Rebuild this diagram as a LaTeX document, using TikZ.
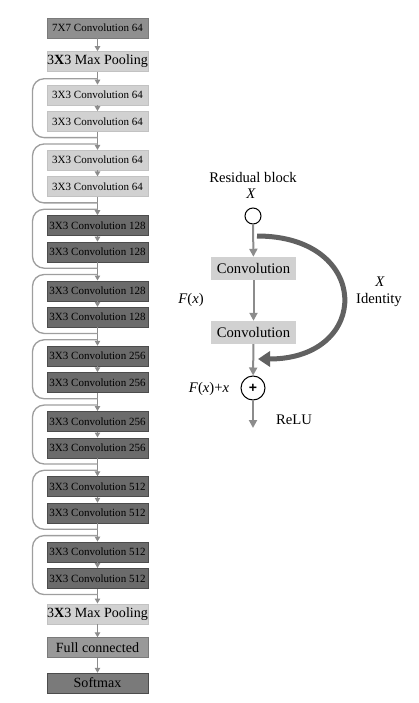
\documentclass[tikz,border=0pt]{standalone}
\usepackage{fontspec}
\setmainfont{Liberation Serif}
\newfontfamily\plusfont{Liberation Sans}
\usetikzlibrary{positioning,arrows.meta}

\begin{document}
\begin{tikzpicture}[x=0.3mm,y=-0.3mm,
		box/.style={rectangle,minimum width=30.3mm,minimum height=6mm,inner sep=0pt,font=\fontsize{9.4}{10}\selectfont},
		light/.style={box,fill=black!18,draw=black!24},
		dark/.style={box,fill=black!58,draw=black!70},
		mid/.style={box,fill=black!44,draw=black!52},
		big/.style={font=\fontsize{12}{13}\selectfont},
		conv/.style={rectangle,fill=black!18,minimum width=25.5mm,minimum height=6.9mm,inner sep=0pt,font=\fontsize{12.5}{13}\selectfont},
		label/.style={font=\fontsize{12.5}{13}\selectfont},
		flow/.style={draw=black!45,line width=0.45mm,-{Triangle[length=1.5mm,width=1.6mm]}},
		flowb/.style={draw=black!45,line width=0.6mm,-{Triangle[length=2.4mm,width=2.4mm]}},
		skip/.style={draw=black!38,line width=0.4mm,rounded corners=3.5mm},
		ident/.style={draw=black!62,line width=1.5mm,-{Triangle[length=3.6mm,width=4.5mm]}}]
		\useasboundingbox (0,0) rectangle (419,703);

		\node[mid]	(0)	at (97.5,28)								{7X7 Convolution 64};
		\node[light,big,node distance=3.9mm,below=of 0]	(1)	{3\textbf{X}3 Max Pooling};
		\node[light,node distance=3.9mm,below=of 1]		(2)	{3X3 Convolution 64};
		\node[light,node distance=1.8mm,below=of 2]		(3)	{3X3 Convolution 64};
		\node[light,node distance=5.5mm,below=of 3]		(4)	{3X3 Convolution 64};
		\node[light,node distance=1.8mm,below=of 4]		(5)	{3X3 Convolution 64};
		\node[dark,node distance=5.5mm,below=of 5]		(6)	{3X3 Convolution 128};
		\node[dark,node distance=1.8mm,below=of 6]		(7)	{3X3 Convolution 128};
		\node[dark,node distance=5.5mm,below=of 7]		(8)	{3X3 Convolution 128};
		\node[dark,node distance=1.8mm,below=of 8]		(9)	{3X3 Convolution 128};
		\node[dark,node distance=5.5mm,below=of 9]		(10)	{3X3 Convolution 256};
		\node[dark,node distance=1.8mm,below=of 10]		(11)	{3X3 Convolution 256};
		\node[dark,node distance=5.5mm,below=of 11]		(12)	{3X3 Convolution 256};
		\node[dark,node distance=1.8mm,below=of 12]		(13)	{3X3 Convolution 256};
		\node[dark,node distance=5.5mm,below=of 13]		(14)	{3X3 Convolution 512};
		\node[dark,node distance=1.8mm,below=of 14]		(15)	{3X3 Convolution 512};
		\node[dark,node distance=5.5mm,below=of 15]		(16)	{3X3 Convolution 512};
		\node[dark,node distance=1.8mm,below=of 16]		(17)	{3X3 Convolution 512};
		\node[light,big,node distance=4.5mm,below=of 17]	(18)	{3\textbf{X}3 Max Pooling};
		\node[mid,big,fill=black!40,node distance=4mm,below=of 18]	(19)	{Full connected};
		\node[dark,big,fill=black!52,node distance=4.5mm,below=of 19]	(20)	{Softmax};

		\draw[flow] (0) -- (1);
		\draw[flow] (1) -- (2);
		\draw[flow] (2) -- (3);
		\draw[flow] (3) -- (4);
		\draw[flow] (4) -- (5);
		\draw[flow] (5) -- (6);
		\draw[flow] (6) -- (7);
		\draw[flow] (7) -- (8);
		\draw[flow] (8) -- (9);
		\draw[flow] (9) -- (10);
		\draw[flow] (10) -- (11);
		\draw[flow] (11) -- (12);
		\draw[flow] (12) -- (13);
		\draw[flow] (13) -- (14);
		\draw[flow] (14) -- (15);
		\draw[flow] (15) -- (16);
		\draw[flow] (16) -- (17);
		\draw[flow] (17) -- (18);
		\draw[flow] (18) -- (19);
		\draw[flow] (19) -- (20);

		% shortcut loops
		\draw[skip] ([yshift=-1.8mm]3.south) -- ++(-65,0) |- ([yshift=1.8mm]2.north);
		\draw[skip] ([yshift=-1.8mm]5.south) -- ++(-65,0) |- ([yshift=1.8mm]4.north);
		\draw[skip] ([yshift=-1.8mm]7.south) -- ++(-65,0) |- ([yshift=1.8mm]6.north);
		\draw[skip] ([yshift=-1.8mm]9.south) -- ++(-65,0) |- ([yshift=1.8mm]8.north);
		\draw[skip] ([yshift=-1.8mm]11.south) -- ++(-65,0) |- ([yshift=1.8mm]10.north);
		\draw[skip] ([yshift=-1.8mm]13.south) -- ++(-65,0) |- ([yshift=1.8mm]12.north);
		\draw[skip] ([yshift=-1.8mm]15.south) -- ++(-65,0) |- ([yshift=1.8mm]14.north);
		\draw[skip] ([yshift=-1.8mm]17.south) -- ++(-65,0) |- ([yshift=1.8mm]16.north);

		% residual block
		\node[label]	(21)	at (253,177)	{Residual block};
		\node[label]	(22)	at (251,194)	{\textit{X}};
		\node[circle,draw,fill=white,line width=0.3mm,minimum size=4.8mm,inner sep=0pt]	(23)	at (253,216)	{};
		\node[conv]	(24)	at (253.5,268.5)	{Convolution};
		\node[conv]	(25)	at (253.5,332.5)	{Convolution};
		\node[circle,draw,fill=white,line width=0.3mm,minimum size=7.2mm,inner sep=0pt,font=\fontsize{12}{12}\plusfont\bfseries]	(26)	at (253,388)	{+};
		\coordinate	(27)	at (253,428);
		\coordinate	(28)	at (257,236);
		\coordinate	(29)	at (258,359);

		\draw[flowb] (23) -- (24);
		\draw[flowb] (24) -- (25);
		\draw[flowb] (25) -- (26);
		\draw[flowb] (26) -- (27);
		\draw[ident] (28) .. controls (372,236) and (372,359) .. (29);

		\node[label]	(30)	at (380,282)	{\textit{X}};
		\node[label]	(31)	at (379,300)	{Identity};
		\node[label]	(32)	at (191,300)	{\textit{F}(\textit{x})};
		\node[label]	(33)	at (209,389)	{\textit{F}(\textit{x})+\textit{x}};
		\node[label]	(34)	at (294,420)	{ReLU};
	\end{tikzpicture}
\end{document}
